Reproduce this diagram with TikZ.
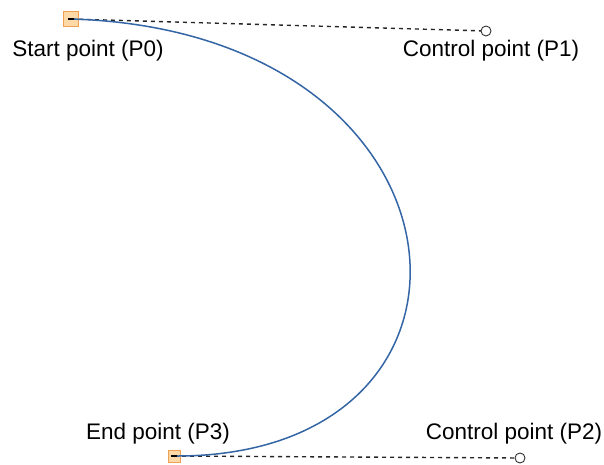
\documentclass[tikz,border=0pt]{standalone}
\usepackage{fontspec}
\setmainfont{Liberation Sans}
\definecolor{curveblue}{HTML}{3465A4}
\definecolor{sqfill}{HTML}{FDD9A8}
\definecolor{sqdraw}{HTML}{F0A050}
\begin{document}
\begin{tikzpicture}[x=1pt,y=-1pt,
  endpt/.style={draw=sqdraw,fill=sqfill,line width=1pt,minimum size=#1,inner sep=0pt,rectangle},
  ctrlpt/.style={draw=black!80,fill=white,circle,line width=0.9pt,minimum size=10pt,inner sep=0pt},
  lbl/.style={font=\fontsize{22.5}{27}\selectfont,inner sep=0pt},
  handle/.style={line width=1.4pt,dash pattern=on 4pt off 4pt,black!85}]
\useasboundingbox (0,0) rectangle (604,465);
\node[endpt=15pt] (p0) at (71,19) {};
\node[endpt=12pt] (p3) at (174,456) {};
\coordinate (c1) at (486,31);
\coordinate (c2) at (520,458);
\draw[handle] (p0.center) -- (c1);
\draw[handle] (p3.center) -- (c2);
\draw[curveblue,line width=1.5pt] (p0.center) .. controls (c1) and (c2) .. (p3.center);
\node[ctrlpt] (p1) at (c1) {};
\node[ctrlpt] (p2) at (c2) {};
\draw[line width=1.2pt] (p0.center) ++(-3,0) -- ++(6,0);
\draw[line width=1.2pt] (p3.center) ++(-3,0) -- ++(6,0);
\node[lbl] (l0) at (88,51) {Start point (P0)};
\node[lbl] (l1) at (491,51) {Control point (P1)};
\node[lbl] (l3) at (158,434) {End point (P3)};
\node[lbl] (l2) at (514,434) {Control point (P2)};
\end{tikzpicture}
\end{document}
